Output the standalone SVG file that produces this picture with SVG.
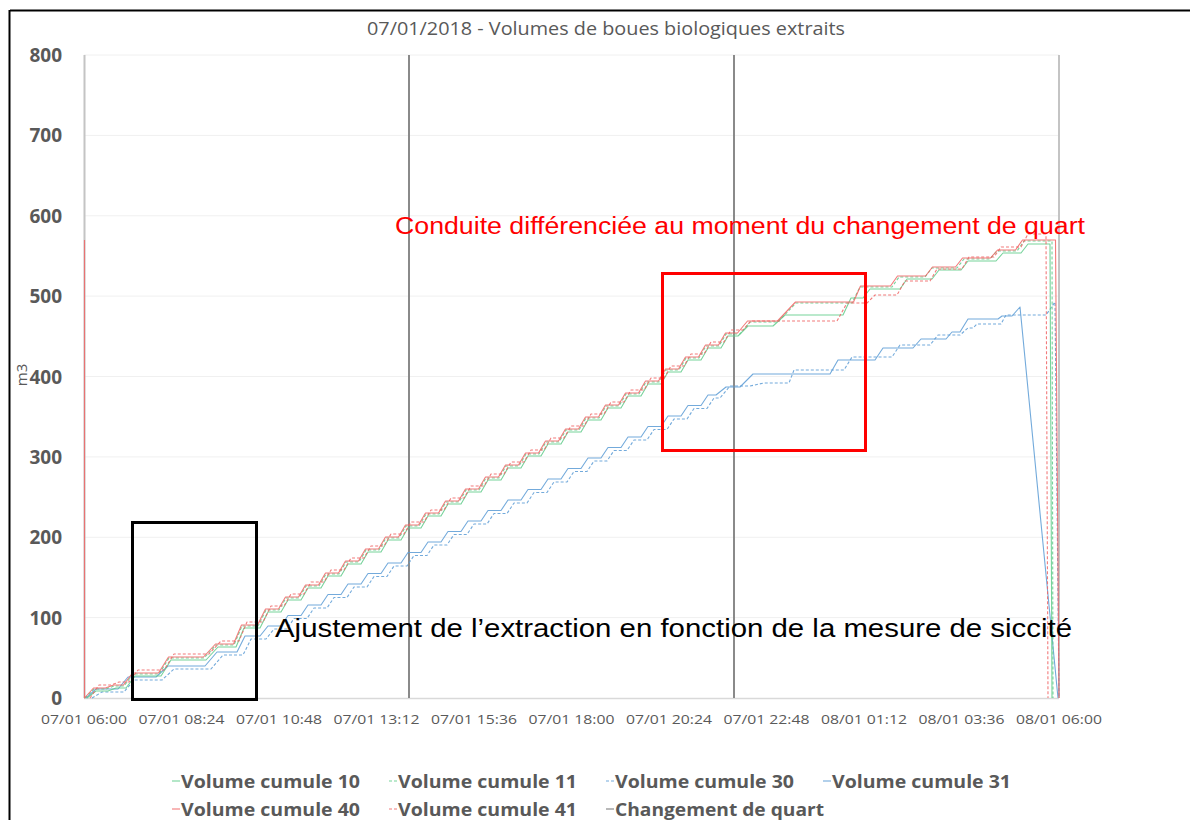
<svg xmlns="http://www.w3.org/2000/svg" width="1190" height="820" viewBox="0 0 1190 820">
<style>
.grid{stroke:#f0f0f0;stroke-width:1}
.s{fill:none;stroke-width:1.1;stroke-linejoin:round;opacity:.85}
.d{stroke-dasharray:3 2}
.gr{stroke:#5fcb8a}
.rd{stroke:#f06464}
.bl{stroke:#5b9bd5}
.ax{font-family:"Open Sans","Liberation Sans",sans-serif;fill:#595959}
.yl{font-size:19px;font-weight:bold;text-anchor:end}
.xl{font-size:13px;text-anchor:middle}
.lg{font-size:18px;font-weight:bold}
.ann{font-family:"Liberation Sans",Arial,sans-serif}
</style>
<rect width="1190" height="820" fill="#ffffff"/>
<g id="frame">
<line x1="10" y1="10.5" x2="1190" y2="10.5" stroke="#000" stroke-width="2"/>
<line x1="9.5" y1="10" x2="9.5" y2="820" stroke="#000" stroke-width="2"/>
</g>
<g id="title"><text class="ax" x="606" y="35" font-size="19" text-anchor="middle" textLength="478" lengthAdjust="spacingAndGlyphs">07/01/2018 - Volumes de boues biologiques extraits</text></g>
<g id="grid">
<line class="grid" x1="84" y1="55" x2="1059" y2="55"/>
<line class="grid" x1="84" y1="135.4" x2="1059" y2="135.4"/>
<line class="grid" x1="84" y1="215.8" x2="1059" y2="215.8"/>
<line class="grid" x1="84" y1="296.1" x2="1059" y2="296.1"/>
<line class="grid" x1="84" y1="376.5" x2="1059" y2="376.5"/>
<line class="grid" x1="84" y1="456.9" x2="1059" y2="456.9"/>
<line class="grid" x1="84" y1="537.3" x2="1059" y2="537.3"/>
<line class="grid" x1="84" y1="617.6" x2="1059" y2="617.6"/>
<line x1="84" y1="698.5" x2="1059" y2="698.5" stroke="#d9d9d9" stroke-width="1.5"/>
</g>
<g id="yaxis" class="ax yl">
<text x="62" y="62">800</text>
<text x="62" y="142">700</text>
<text x="62" y="223">600</text>
<text x="62" y="303">500</text>
<text x="62" y="384">400</text>
<text x="62" y="464">300</text>
<text x="62" y="544">200</text>
<text x="62" y="625">100</text>
<text x="62" y="705">0</text>
</g>
<text class="ax" x="0" y="0" font-size="15" text-anchor="middle" transform="translate(27,375) rotate(-90)">m3</text>
<g id="xaxis" class="ax xl">
<text x="84" y="724" textLength="86" lengthAdjust="spacingAndGlyphs">07/01 06:00</text>
<text x="181.5" y="724" textLength="86" lengthAdjust="spacingAndGlyphs">07/01 08:24</text>
<text x="279" y="724" textLength="86" lengthAdjust="spacingAndGlyphs">07/01 10:48</text>
<text x="376.5" y="724" textLength="86" lengthAdjust="spacingAndGlyphs">07/01 13:12</text>
<text x="474" y="724" textLength="86" lengthAdjust="spacingAndGlyphs">07/01 15:36</text>
<text x="571.5" y="724" textLength="86" lengthAdjust="spacingAndGlyphs">07/01 18:00</text>
<text x="669" y="724" textLength="86" lengthAdjust="spacingAndGlyphs">07/01 20:24</text>
<text x="766.5" y="724" textLength="86" lengthAdjust="spacingAndGlyphs">07/01 22:48</text>
<text x="864" y="724" textLength="86" lengthAdjust="spacingAndGlyphs">08/01 01:12</text>
<text x="961.5" y="724" textLength="86" lengthAdjust="spacingAndGlyphs">08/01 03:36</text>
<text x="1059" y="724" textLength="86" lengthAdjust="spacingAndGlyphs">08/01 06:00</text>
</g>
<g id="shift-changes">
<line x1="84.5" y1="55" x2="84.5" y2="698" stroke="#c4c4c4" stroke-width="2"/>
<line x1="409" y1="55" x2="409" y2="698" stroke="#8a8a8a" stroke-width="2"/>
<line x1="734" y1="55" x2="734" y2="698" stroke="#8a8a8a" stroke-width="2"/>
<line x1="1059" y1="55" x2="1059" y2="698" stroke="#c4c4c4" stroke-width="2"/>
</g>
<g id="series">
<path id="v31" class="s bl d" d="M92,698 l10,-6 h22 l10,-12 h28 l12,-11 h37 l12,-14 h20 l8,-16 h15 l8,-10 h13 l7,-10.5 h13 l7,-10.5 h13 l7,-10.5 h13 l7,-10.5 h13 l7,-10.5 h13 l7,-10.5 h13 l7,-10.5 h13 l7,-10.5 h13 l7,-10.5 h13 l7,-10.5 h13 l7,-10.5 h13 l7,-10.5 h13 l7,-10.5 h13 l7,-10.5 h13 l7,-10.5 h13 l7,-10.5 h13 l7,-10.5 h13 l7,-10.5 h13 l7,-10.5 h13 l7,-10.5 h13 l7,-10.5 h13 l7,-10.5 h6 l10,-12 h20 l14,-3 h25 l5,-13 h50 l8,-13 h40 l8,-12 h30 l8,-10 h22 l8,-7 h5 l4,-4 h24 l5,-9 h40 l9,-13 L1059,698"/>
<path id="v30" class="s bl" d="M86,698 l10,-9 h22 l10,-12 h28 l12,-11 h37 l12,-14 h20 l8,-16 h15 l8,-10 h13 l7,-10.5 h13 l7,-10.5 h13 l7,-10.5 h13 l7,-10.5 h13 l7,-10.5 h13 l7,-10.5 h13 l7,-10.5 h13 l7,-10.5 h13 l7,-10.5 h13 l7,-10.5 h13 l7,-10.5 h13 l7,-10.5 h13 l7,-10.5 h13 l7,-10.5 h13 l7,-10.5 h13 l7,-10.5 h13 l7,-10.5 h13 l7,-10.5 h13 l7,-10.5 h13 l7,-10.5 h13 l7,-10.5 h13 l7,-10.5 h8 l10,-8 h14 l13,-13 h77 l8,-14 h37 l8,-12 h30 l8,-9 h25 l6,-7 h8 l8,-13 h30 l4,-3 h10 l8,-9 L1058,698"/>
<path id="v11" class="s gr d" d="M85,698 l9,-9 h12 l8,-3 h10 l9,-12 h26 l10,-16 h35 l12,-13 h18 l8,-19 h16 l8,-16 h13 l7,-12 h13 l7,-12 h13 l7,-12 h13 l7,-12 h13 l7,-12 h13 l7,-12 h13 l7,-12 h13 l7,-12 h13 l7,-12 h13 l7,-12 h13 l7,-12 h13 l7,-12 h13 l7,-12 h13 l7,-12 h13 l7,-12 h13 l7,-12 h13 l7,-12 h13 l7,-12 h13 l7,-12 h13 l7,-12 h13 l7,-12 h13 l7,-12 h13 l7,-12 h14 l10,-12 h28 l18,-19 h56 l8,-16 h32 l7,-10 h26 l7,-9 h25 l7,-9 h26 l7,-8 h20 l7,-10 h28 L1053,698"/>
<path id="v10" class="s gr" d="M87,698 l9,-7 h12 l8,-3 h10 l9,-12 h26 l10,-16 h35 l12,-13 h18 l8,-19 h16 l8,-16 h13 l7,-12 h13 l7,-12 h13 l7,-12 h13 l7,-12 h13 l7,-12 h13 l7,-12 h13 l7,-12 h13 l7,-12 h13 l7,-12 h13 l7,-12 h13 l7,-12 h13 l7,-12 h13 l7,-12 h13 l7,-12 h13 l7,-12 h13 l7,-12 h13 l7,-12 h13 l7,-12 h13 l7,-12 h13 l7,-12 h13 l7,-12 h13 l7,-12 h13 l7,-12 h10 l10,-10 h25 l12,-11 h58 l8,-17 h12 l7,-9 h30 l7,-10 h25 l7,-9 h22 l7,-9 h28 l7,-8 h18 l7,-9 h22 L1052,698"/>
<path id="v41" class="s rd d" d="M90,698 l9,-13 h12 l8,-3 h10 l9,-12 h26 l10,-16 h35 l12,-13 h18 l8,-19 h16 l8,-16 h13 l7,-12 h13 l7,-12 h13 l7,-12 h13 l7,-12 h13 l7,-12 h13 l7,-12 h13 l7,-12 h13 l7,-12 h13 l7,-12 h13 l7,-12 h13 l7,-12 h13 l7,-12 h13 l7,-12 h13 l7,-12 h13 l7,-12 h13 l7,-12 h13 l7,-12 h13 l7,-12 h13 l7,-12 h13 l7,-12 h13 l7,-12 h13 l7,-12 h13 l7,-12 h12 l8,-9 h86 l10,-18 h20 l8,-8 h22 l8,-14 h25 l7,-12 h25 l7,-12 h25 l7,-10 h20 l7,-13 h18 L1048,698"/>
<path id="v40" class="s rd" d="M84.5,240 V698 l9,-10 h12 l8,-3 h10 l9,-12 h26 l10,-16 h35 l12,-13 h18 l8,-19 h16 l8,-16 h13 l7,-12 h13 l7,-12 h13 l7,-12 h13 l7,-12 h13 l7,-12 h13 l7,-12 h13 l7,-12 h13 l7,-12 h13 l7,-12 h13 l7,-12 h13 l7,-12 h13 l7,-12 h13 l7,-12 h13 l7,-12 h13 l7,-12 h13 l7,-12 h13 l7,-12 h13 l7,-12 h13 l7,-12 h13 l7,-12 h13 l7,-12 h13 l7,-12 h13 l7,-12 h12 l10,-12 h30 l18,-19 h58 l7,-16 h30 l7,-10 h28 l7,-9 h23 l7,-9 h28 l7,-8 h18 l7,-10 h33 L1059,698"/>
</g>
<g id="box-shift"><rect x="662.5" y="273.5" width="203" height="177" fill="none" stroke="#ff0000" stroke-width="3"/></g>
<g id="box-dryness"><rect x="132.5" y="522.5" width="124" height="177" fill="none" stroke="#000" stroke-width="3"/></g>
<g id="note-shift"><text class="ann" x="395" y="234" font-size="23" fill="#ff0000" textLength="690" lengthAdjust="spacingAndGlyphs">Conduite différenciée au moment du changement de quart</text></g>
<g id="note-dryness"><text class="ann" x="275" y="637" font-size="25" fill="#000" textLength="797" lengthAdjust="spacingAndGlyphs">Ajustement de l’extraction en fonction de la mesure de siccité</text></g>
<g id="legend">
<line x1="172" y1="781" x2="180" y2="781" class="s gr"/>
<text class="ax lg" x="181" y="788" textLength="179" lengthAdjust="spacingAndGlyphs">Volume cumule 10</text>
<line x1="389" y1="781" x2="397" y2="781" class="s gr d"/>
<text class="ax lg" x="398" y="788" textLength="179" lengthAdjust="spacingAndGlyphs">Volume cumule 11</text>
<line x1="606" y1="781" x2="614" y2="781" class="s bl d"/>
<text class="ax lg" x="615" y="788" textLength="179" lengthAdjust="spacingAndGlyphs">Volume cumule 30</text>
<line x1="823" y1="781" x2="831" y2="781" class="s bl"/>
<text class="ax lg" x="832" y="788" textLength="179" lengthAdjust="spacingAndGlyphs">Volume cumule 31</text>
<line x1="172" y1="809" x2="180" y2="809" class="s rd"/>
<text class="ax lg" x="181" y="816" textLength="179" lengthAdjust="spacingAndGlyphs">Volume cumule 40</text>
<line x1="389" y1="809" x2="397" y2="809" class="s rd d"/>
<text class="ax lg" x="398" y="816" textLength="179" lengthAdjust="spacingAndGlyphs">Volume cumule 41</text>
<line x1="606" y1="809" x2="614" y2="809" stroke="#8a8a8a" stroke-width="1.2"/>
<text class="ax lg" x="615" y="816" textLength="209" lengthAdjust="spacingAndGlyphs">Changement de quart</text>
</g>
</svg>
